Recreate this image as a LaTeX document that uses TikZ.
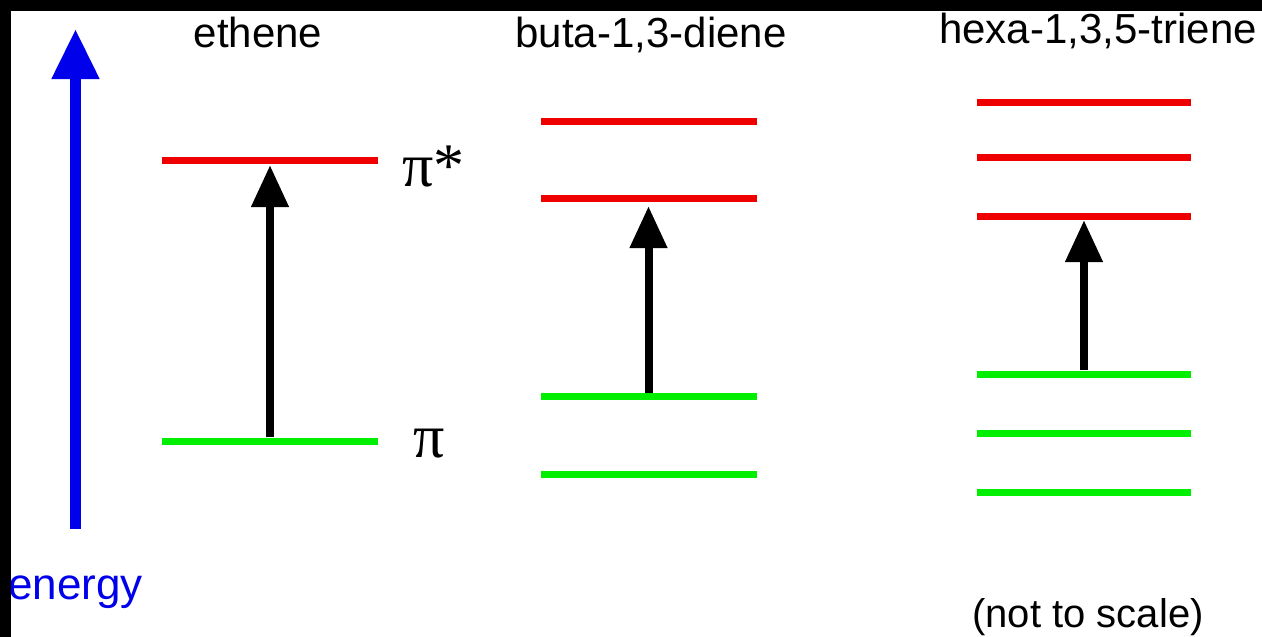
\documentclass[tikz,border=0pt]{standalone}
\usepackage{fontspec}
\setmainfont{Liberation Sans}
\newfontfamily\orbfont{Liberation Serif}
\usetikzlibrary{positioning,arrows.meta}

\definecolor{lvlred}{RGB}{238,0,0}
\definecolor{lvlgreen}{RGB}{0,238,0}
\definecolor{enblue}{RGB}{0,0,235}

\begin{document}
\begin{tikzpicture}[
    x=1pt, y=-1pt,
    level/.style={
        rectangle,
        inner sep=0pt,
        minimum width=216pt,
        minimum height=7pt
    },
    antibond/.style={level, fill=lvlred},
    bond/.style={level, fill=lvlgreen},
    title/.style={font=\fontsize{42}{42}\selectfont, inner sep=0pt, anchor=base},
    orb/.style={font=\orbfont\fontsize{62}{62}\selectfont, inner sep=0pt},
    jump/.style={-{Triangle[width=36pt,length=42pt]}, line width=8pt}
]

\fill[white] (0,0) rectangle (1262,637);
\useasboundingbox (0,0) rectangle (1262,637);

% energy axis
\coordinate (en-bot) at (75.5,529);
\coordinate (en-top) at (75.5,29);
\draw[enblue, line width=11pt, -{Triangle[width=45pt,length=50pt]}] (en-bot) -- (en-top);
\node[font=\fontsize{44}{44}\selectfont, text=enblue, inner sep=0pt, anchor=base west] (energy) at (8,599) {energy};

% ethene
\node[title] (eth-title) at (258,47) {ethene};
\node[antibond] (eth-pistar) at (270,160) {};
\node[bond] (eth-pi) at (270,441) {};
\node[orb, right=24pt of eth-pistar, yshift=-7pt] (eth-pistar-lbl) {π*};
\node[orb, right=35pt of eth-pi, yshift=-3pt] (eth-pi-lbl) {π};
\draw[jump, shorten >=1.5pt] (eth-pi) -- (eth-pistar);

% buta-1,3-diene
\node[title] (but-title) at (651,47) {buta-1,3-diene};
\node[antibond] (but-pi4) at (648.5,121) {};
\node[antibond] (but-pi3) at (648.5,198.5) {};
\node[bond] (but-pi2) at (648.5,396.5) {};
\node[bond] (but-pi1) at (648.5,474) {};
\draw[jump, shorten >=4pt] (but-pi2) -- (but-pi3);

% hexa-1,3,5-triene
\node[title] (hex-title) at (1098,43) {hexa-1,3,5-triene};
\node[antibond, minimum width=214pt] (hex-pi6) at (1084,102) {};
\node[antibond, minimum width=214pt] (hex-pi5) at (1084,157) {};
\node[antibond, minimum width=214pt] (hex-pi4) at (1084,216.5) {};
\node[bond, minimum width=214pt] (hex-pi3) at (1084,374) {};
\node[bond, minimum width=214pt] (hex-pi2) at (1084,433) {};
\node[bond, minimum width=214pt] (hex-pi1) at (1084,492) {};
\draw[jump] (hex-pi3) -- (hex-pi4);

\node[title, font=\fontsize{40}{40}\selectfont] (scale-note) at (1088,627) {(not to scale)};

% frame
\fill[black] (0,0) rectangle (1262,11);
\fill[black] (0,0) rectangle (11,637);

\end{tikzpicture}
\end{document}
